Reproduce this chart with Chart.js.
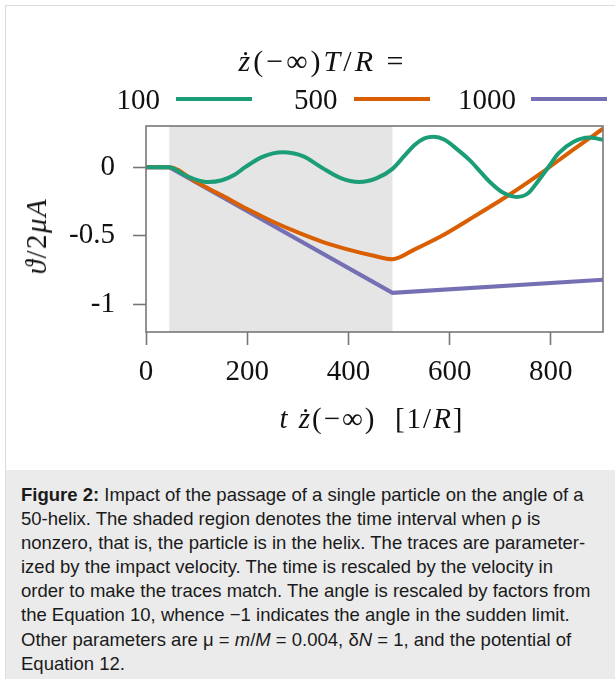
<!DOCTYPE html>
<html>
<head>
<meta charset="utf-8">
<script src="https://cdn.jsdelivr.net/npm/chart.js@4.4.1/dist/chart.umd.min.js"></script>
<style>
  html, body { margin: 0; padding: 0; background: #fff; }
  body { width: 615px; height: 679px; overflow: hidden; position: relative; }
  .card { position: absolute; left: 5px; top: 5px; width: 700px; height: 700px; border: 1.5px solid #dcdcdc; box-sizing: border-box; }
  .math { font-family: "Liberation Serif", "DejaVu Serif", serif; color: #111; position: absolute; white-space: nowrap; }
  .math i { font-style: italic; }
  #title { left: 0; width: 645px; text-align: center; top: 44px; font-size: 30px; line-height: 34px; letter-spacing: 3px; }
  .leg { top: 82px; font-size: 29px; line-height: 34px; }
  .swatch { position: absolute; height: 4px; top: 97px; }
  #ytitle { font-size: 29px; line-height: 34px; left: 36px; top: 236px; transform: translate(-50%, -50%) rotate(-90deg); letter-spacing: 1.5px; }
  #xtitle { font-size: 29px; line-height: 34px; left: 372px; top: 418px; transform: translate(-50%, -50%); letter-spacing: 2px; }
  #chartbox { position: absolute; left: 0; top: 0; width: 615px; height: 460px; }
  #caption { position: absolute; left: 6px; top: 470px; width: 640px; height: 240px; background: #ebebeb; }
  #captext { position: absolute; left: 15px; top: 13px; font-family: "Liberation Sans", Arial, sans-serif; font-size: 18.5px; line-height: 24.1px; color: #1a1a1a; white-space: nowrap; }
</style>
</head>
<body>
<div class="card"></div>
<div id="chartbox"><canvas id="c"></canvas></div>
<div id="title" class="math"><i>ż</i>(−∞)<i>T</i>/<i>R</i> =</div>
<div id="legend"></div>
<div id="ytitle" class="math"><i>ϑ</i>/2<i>μA</i></div>
<div id="xtitle" class="math"><i>t</i> <i>ż</i>(−∞) &nbsp;[1/<i>R</i>]</div>
<div id="caption"><div id="captext"><b>Figure 2:</b> Impact of the passage of a single particle on the angle of a<br>50-helix. The shaded region denotes the time interval when ρ is<br>nonzero, that is, the particle is in the helix. The traces are parameter-<br>ized by the impact velocity. The time is rescaled by the velocity in<br>order to make the traces match. The angle is rescaled by factors from<br>the Equation 10, whence −1 indicates the angle in the sudden limit.<br>Other parameters are μ = <i>m</i>/<i>M</i> = 0.004, δ<i>N</i> = 1, and the potential of<br>Equation 12.</div></div>
<script>
// ---- data ----
const seriesNames = ["100", "500", "1000"];
const seriesColors = ["#1b9e77", "#d95f02", "#7570b3"];

const v100_t = [0, 46, 75, 100, 122, 150, 175, 196, 230, 270, 310, 346, 385, 421, 455, 487,
                510, 530, 550, 569, 590, 615, 640, 660, 680, 705, 733, 755, 775, 795, 815, 845, 875, 890, 903];
const v100_y = [0, 0, -0.055, -0.092, -0.108, -0.095, -0.055, 0.0, 0.075, 0.108, 0.08, 0.0, -0.08, -0.108, -0.082, -0.012,
                0.08, 0.16, 0.21, 0.222, 0.20, 0.13, 0.05, -0.03, -0.11, -0.185, -0.217, -0.19, -0.10, 0.0, 0.10, 0.185, 0.217, 0.21, 0.198];

const v500_t = [0, 46, 100, 150, 200, 250, 300, 350, 400, 450, 487,
                530, 582, 648, 714, 780, 845, 903];
const v500_y = [0, 0, -0.11, -0.205, -0.305, -0.395, -0.475, -0.545, -0.60, -0.645, -0.67,
                -0.60, -0.505, -0.36, -0.21, -0.045, 0.13, 0.28];

const v1000_t = [0, 46, 487, 903];
const v1000_y = [0, 0, -0.915, -0.82];

const shadedInterval = [46, 487];
const xTickValues = [0, 200, 400, 600, 800];
const yTickValues = [0, -0.5, -1];
const xRange = [0, 903];
const yRange = [-1.2, 0.3];

// ---- legend (HTML) ----
const legendLayout = [ {txt: 116.5, sw: 176}, {txt: 294, sw: 354}, {txt: 458, sw: 531} ];
const legendDiv = document.getElementById('legend');
seriesNames.forEach((n, i) => {
  const t = document.createElement('div');
  t.className = 'math leg';
  t.style.left = legendLayout[i].txt + 'px';
  t.textContent = n;
  legendDiv.appendChild(t);
  const s = document.createElement('div');
  s.className = 'swatch';
  s.style.left = legendLayout[i].sw + 'px';
  s.style.width = '76px';
  s.style.background = seriesColors[i];
  legendDiv.appendChild(s);
});

const toPts = (xs, ys) => xs.map((x, i) => ({x: x, y: ys[i]}));
const seriesData = [toPts(v100_t, v100_y), toPts(v500_t, v500_y), toPts(v1000_t, v1000_y)];
const seriesSmooth = [true, true, false];

const shadePlugin = {
  id: 'shade',
  beforeDatasetsDraw(chart) {
    const {ctx, chartArea, scales} = chart;
    const x0 = scales.x.getPixelForValue(shadedInterval[0]);
    const x1 = scales.x.getPixelForValue(shadedInterval[1]);
    ctx.save();
    ctx.fillStyle = '#e5e5e5';
    ctx.fillRect(x0, chartArea.top, x1 - x0, chartArea.bottom - chartArea.top);
    ctx.restore();
  },
  afterDatasetsDraw(chart) {
    const {ctx, chartArea} = chart;
    ctx.save();
    ctx.strokeStyle = '#777';
    ctx.lineWidth = 1.6;
    ctx.strokeRect(chartArea.left, chartArea.top, chartArea.right - chartArea.left, chartArea.bottom - chartArea.top);
    ctx.restore();
  }
};

const tickFont = { family: '"Liberation Serif", "DejaVu Serif", serif', size: 29 };

new Chart(document.getElementById('c'), {
  type: 'line',
  data: {
    datasets: seriesNames.map((n, i) => ({
      label: n,
      data: seriesData[i],
      borderColor: seriesColors[i],
      backgroundColor: seriesColors[i],
      borderWidth: 4,
      pointRadius: 0,
      cubicInterpolationMode: seriesSmooth[i] ? 'monotone' : 'default',
      tension: 0,
      fill: false
    }))
  },
  options: {
    responsive: true,
    maintainAspectRatio: false,
    animation: false,
    events: [],
    layout: { padding: { left: 0, top: 126, right: 12, bottom: 0 } },
    plugins: { legend: { display: false }, tooltip: { enabled: false } },
    scales: {
      x: {
        type: 'linear',
        min: xRange[0], max: xRange[1],
        afterBuildTicks: (s) => { s.ticks = xTickValues.map(v => ({value: v})); },
        afterFit: (s) => { s.height = 128; },
        border: { display: false },
        grid: { display: true, drawOnChartArea: false, drawTicks: true, tickLength: 13, tickColor: '#777', tickWidth: 1.6 },
        ticks: { font: tickFont, color: '#111', padding: 10, maxRotation: 0, autoSkip: false,
                 callback: (v) => String(v) }
      },
      y: {
        type: 'linear',
        min: yRange[0], max: yRange[1],
        afterBuildTicks: (s) => { s.ticks = yTickValues.map(v => ({value: v})); },
        afterFit: (s) => { s.width = 146; },
        border: { display: false },
        grid: { display: true, drawOnChartArea: false, drawTicks: true, tickLength: 13, tickColor: '#777', tickWidth: 1.6 },
        ticks: { font: tickFont, color: '#111', padding: 18, autoSkip: false,
                 callback: (v) => String(v) }
      }
    }
  },
  plugins: [shadePlugin]
});
</script>
</body>
</html>
